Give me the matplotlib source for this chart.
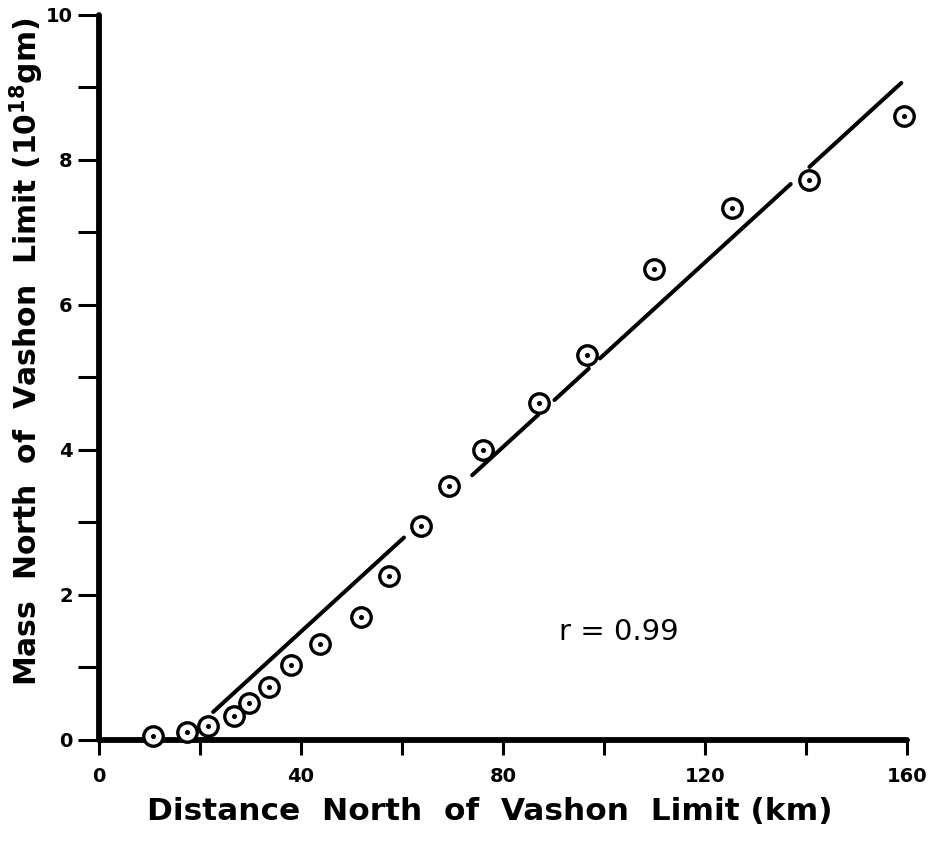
import numpy as np
import matplotlib
matplotlib.use("Agg")
import matplotlib.pyplot as plt
from matplotlib.ticker import MultipleLocator

# distance north of Vashon limit (km) and mass north of it (10^18 gm)
distance_km = [10.7, 17.4, 21.6, 26.7, 29.7, 33.7, 38.0, 43.8, 51.8, 57.4,
               63.7, 69.4, 76.1, 87.2, 96.7, 109.9, 125.3, 140.7, 159.4]
mass_1e18gm = [0.05, 0.10, 0.18, 0.33, 0.51, 0.72, 1.03, 1.32, 1.69, 2.25,
               2.95, 3.50, 3.99, 4.65, 5.31, 6.49, 7.34, 7.72, 8.61]

# fitted line, drawn in pieces (it is broken where it meets the circles)
fit_intercept = -1.06
fit_slope = 0.0637
fit_starts = [22.6, 73.9, 90.2, 99.2, 140.7]
fit_ends = [60.4, 87.0, 97.0, 137.0, 158.9]

r_text = "r = 0.99"
x_ticks = [0, 40, 80, 120, 160]
y_ticks = [0, 2, 4, 6, 8, 10]

plt.rcParams['font.family'] = ['DejaVu Sans']
plt.rcParams['mathtext.fontset'] = 'dejavusans'

fig = plt.figure(figsize=(9.35, 8.5), dpi=100)
ax = fig.add_axes([0.1059, 0.130, 0.864, 0.8524])

# regression line segments
for a, b in zip(fit_starts, fit_ends):
    xs = np.array([a, b])
    ax.plot(xs, fit_intercept + fit_slope * xs, color='black', lw=2.9,
            solid_capstyle='round', zorder=2)

# circles with a dot in the middle
ax.plot(distance_km, mass_1e18gm, 'o', ms=14, mfc='white', mec='black',
        mew=2.4, clip_on=False, zorder=3)
ax.plot(distance_km, mass_1e18gm, 'o', ms=2.6, color='black',
        clip_on=False, zorder=4)

ax.text(103, 1.48, r_text, fontsize=21, ha='center', va='center')

ax.set_xlim(0, 160)
ax.set_ylim(0, 10)
ax.set_xticks(x_ticks)
ax.set_yticks(y_ticks)
ax.xaxis.set_minor_locator(MultipleLocator(20))
ax.yaxis.set_minor_locator(MultipleLocator(1))

for side in ['top', 'right']:
    ax.spines[side].set_visible(False)
for side in ['left', 'bottom']:
    ax.spines[side].set_linewidth(4.2)
    ax.spines[side].set_capstyle('round')

ax.tick_params(axis='x', which='both', direction='out', length=11, width=2.2,
               pad=9, labelsize=14)
ax.tick_params(axis='y', which='both', direction='out', length=15, width=2.2,
               pad=4, labelsize=14)
for lab in ax.get_xticklabels() + ax.get_yticklabels():
    lab.set_fontweight('bold')

ax.set_xlabel("Distance  North  of  Vashon  Limit (km)", fontsize=22.5,
              fontweight='bold', va='center')
ax.xaxis.set_label_coords(0.484, -0.100)
ax.set_ylabel(r"Mass  North  of  Vashon  Limit (10$^{\mathbf{18}}$gm)",
              fontsize=21.5, fontweight='bold', va='center')
ax.yaxis.set_label_coords(-0.0895, 0.535)

fig.savefig("out.png", dpi=100)
